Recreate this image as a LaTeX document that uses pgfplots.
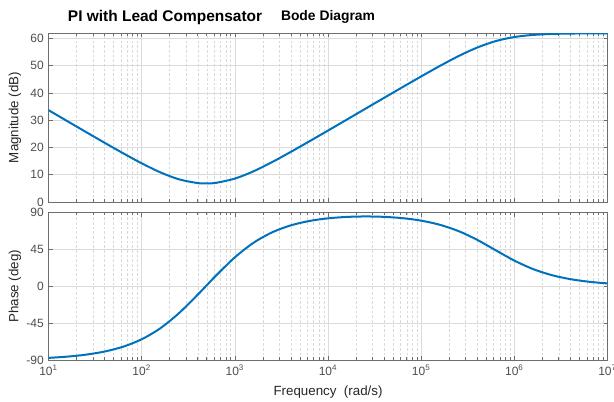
\documentclass[border=0pt]{standalone}
\usepackage{fontspec}
\setmainfont{Liberation Sans}
\usepackage{pgfplots}
\pgfplotsset{compat=1.18}
\definecolor{mblue}{HTML}{0072BD}
\definecolor{tickgray}{HTML}{4D4D4D}
\definecolor{axgray}{HTML}{6E6E6E}
\definecolor{labgray}{HTML}{262626}

\pgfplotsset{bode/.style={
  scale only axis, width=419.25pt,
  xmin=10, xmax=1e7,
  xtick={1e1,1e2,1e3,1e4,1e5,1e6,1e7},
  minor xtick={20,30,40,50,60,70,80,90,200,300,400,500,600,700,800,900,
    2000,3000,4000,5000,6000,7000,8000,9000,
    2e4,3e4,4e4,5e4,6e4,7e4,8e4,9e4,2e5,3e5,4e5,5e5,6e5,7e5,8e5,9e5,
    2e6,3e6,4e6,5e6,6e6,7e6,8e6,9e6},
  axis line style={axgray, line width=0.6pt},
  tick style={axgray, line width=0.5pt},
  tick align=inside, major tick length=3pt, minor tick length=2pt,
  grid=both,
  major grid style={gray!28, line width=0.5pt},
  minor grid style={gray!30, line width=0.4pt, dash pattern=on 2pt off 1.5pt},
  ticklabel style={font=\fontsize{9}{10}\selectfont, text=tickgray},
  /pgf/number format/assume math mode=true,
  ylabel style={at={(axis description cs:-0.06,0.5)}, anchor=center,
    font=\fontsize{10}{12}\selectfont, text=labgray},
}}

\begin{document}
\begin{tikzpicture}
% phase
\begin{semilogxaxis}[bode, name=ph, at={(0,0)}, anchor=south west,
  height=110.6pt,
  ymin=-90, ymax=90, ytick={-90,-45,0,45,90},
  xticklabels={10\textsuperscript{1},10\textsuperscript{2},10\textsuperscript{3},10\textsuperscript{4},10\textsuperscript{5},10\textsuperscript{6},10\textsuperscript{7}},
  ylabel={Phase (deg)},
  xlabel={Frequency\ \ (rad/s)},
  xlabel style={at={(axis description cs:0.5,0)}, anchor=center, yshift=-24pt,
    font=\fontsize{10}{12}\selectfont, text=labgray},
]
\addplot[mblue, line width=1.5pt, smooth] coordinates {(10,-87.41)(15.85,-85.89)(25.12,-83.49)(39.81,-79.72)(63.10,-73.80)
  (100,-64.70)(158.5,-51.25)(251.2,-32.82)(398.1,-10.42)(501.2,1.46)(631.0,13.33)
  (1000,35.31)(1585,53.07)(2512,65.83)(3981,74.32)(6310,79.70)(1e4,82.92)
  (1.585e4,84.63)(2.512e4,85.20)(3.981e4,84.72)(6.310e4,83.12)(1e5,80.08)
  (1.585e5,75.05)(2.512e5,67.38)(3.981e5,56.72)(6.310e5,43.93)(1e6,31.33)
  (1.585e6,21.01)(2.512e6,13.62)(3.981e6,8.70)(6.310e6,5.51)(1e7,3.48)};
\end{semilogxaxis}
% magnitude
\begin{semilogxaxis}[bode, name=mag, at={(0,118.5pt)}, anchor=south west,
  height=126.75pt,
  ymin=0, ymax=62, ytick={0,10,20,30,40,50,60},
  xticklabels={},
  ylabel={Magnitude (dB)},
]
\addplot[mblue, line width=1.5pt, smooth] coordinates {(10,33.70)(15.85,29.70)(25.12,25.72)(39.81,21.77)(63.10,17.90)
  (100,14.19)(158.5,10.88)(251.2,8.32)(398.1,6.95)(501.2,6.81)(631.0,7.05)
  (1000,8.59)(1585,11.26)(2512,14.65)(3981,18.38)(6310,22.27)(1e4,26.22)
  (1.585e4,30.20)(2.512e4,34.20)(3.981e4,38.18)(6.310e4,42.15)(1e5,46.08)
  (1.585e5,49.91)(2.512e5,53.52)(3.981e5,56.65)(6.310e5,59.04)(1e6,60.53)
  (1.585e6,61.30)(2.512e6,61.65)(3.981e6,61.80)(6.310e6,61.86)(1e7,61.89)};
\end{semilogxaxis}
\node[font=\bfseries\fontsize{11.6}{13}\selectfont, text=black, xshift=87.4pt, yshift=12pt]
  at (mag.north west) {PI with Lead Compensator};
\node[font=\bfseries\fontsize{10.4}{12}\selectfont, text=black, xshift=209.6pt, yshift=12pt]
  at (mag.north west) {Bode Diagram};
\pgfresetboundingbox
\useasboundingbox (-36.4pt,-30.75pt) rectangle (424.1pt,270pt);
\end{tikzpicture}
\end{document}
